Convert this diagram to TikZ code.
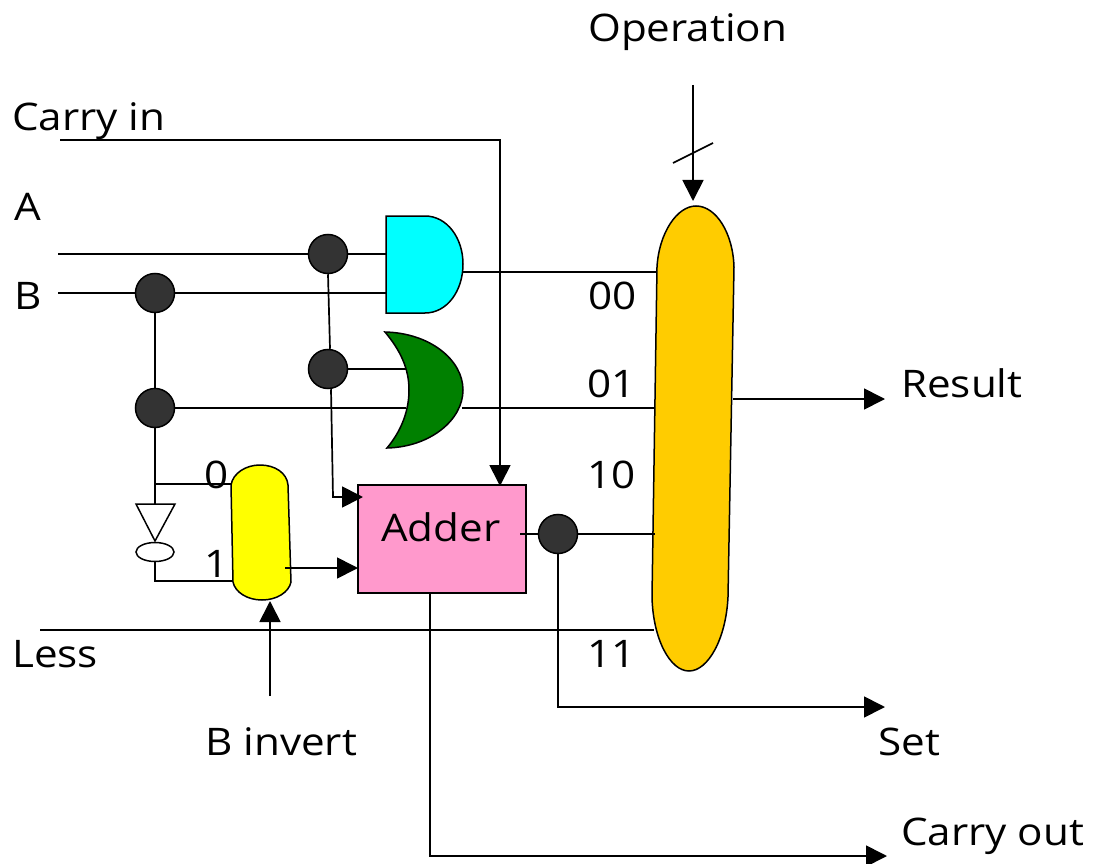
\documentclass[tikz,border=0pt]{standalone}
\usepackage{fontspec}
\setmainfont[FakeStretch=1.11]{Open Sans}
\usepackage{tikz}
\usetikzlibrary{arrows.meta,shapes.geometric}
\definecolor{opmux}{HTML}{FFCC00}
\definecolor{addpink}{HTML}{FF99CC}
\definecolor{orgreen}{HTML}{008000}
\definecolor{dotgrey}{HTML}{333333}
\definecolor{andcyan}{HTML}{00FFFF}
\definecolor{invyellow}{HTML}{FFFF00}
\tikzstyle{wire}=[draw=black,line width=1.7pt]
\tikzstyle{act}=[wire,-{Triangle[length=21pt,width=21pt]}]
\tikzstyle{gate}=[draw=black,line width=1.5pt]

\begin{document}
\begin{tikzpicture}[x=1pt,y=-1pt]
    \tikzstyle{junction}=[circle,draw=black,line width=1.5pt,fill=dotgrey,minimum size=39pt,inner sep=0pt]
    \tikzstyle{lab}=[anchor=base west,inner sep=0pt,font=\fontsize{38}{38}\selectfont]
    \useasboundingbox (0,0) rectangle (1093,864);

    % Draw the junction dots
    \foreach \name / \x / \y in {J1/328/254,J2/155/293,J3/155/408,J4/328/369,J5/558/534}
        \node[junction] (\name) at (\x,\y) {};

    % Draw the gates
    \path[gate,fill=andcyan] (386,216) -- (425,216) .. controls (447,216) and (463,238) .. (463,264)
        .. controls (463,291) and (447,313) .. (425,313) -- (386,313) -- cycle;
    \path[gate,fill=orgreen] (385,332) .. controls (430,333) and (463,360) .. (463,390)
        .. controls (463,420) and (430,447) .. (387,448) .. controls (402,430) and (409,410) .. (409,390)
        .. controls (409,368) and (400,350) .. (385,332) -- cycle;

    % Draw the multiplexers
    \path[gate,fill=invyellow] (231,485) .. controls (233,473) and (246,465) .. (260,465)
        .. controls (275,465) and (287,473) .. (288,485) -- (291,582)
        .. controls (289,592) and (277,600) .. (262,600) .. controls (247,600) and (235,592) .. (233,582) -- cycle;
    \path[gate,fill=opmux] (657,267) .. controls (659,233) and (677,206) .. (696,206)
        .. controls (716,206) and (733,233) .. (734,267) -- (728,597)
        .. controls (726,639) and (708,671) .. (689,671) .. controls (670,671) and (653,639) .. (652,597) -- cycle;

    % Draw the adder and the inverter
    \node[draw=black,line width=1.7pt,fill=addpink,minimum width=168pt,minimum height=108pt,inner sep=0pt] (adder) at (442,539) {};
    \node[gate,fill=white,shape=ellipse,minimum width=38pt,minimum height=19pt,inner sep=0pt] (invdot) at (155,552) {};
    \path[gate,fill=white] (136,504) -- (175,504) -- (155,541) -- cycle;

    % ports and free ends
    \coordinate (Ain) at (58,254);
    \coordinate (Bin) at (58,293);
    \coordinate (CarryIn) at (60,140);
    \coordinate (CarryTurn) at (500,140);
    \coordinate (CarryEnd) at (500,486);
    \coordinate (AndA) at (386,254);
    \coordinate (AndB) at (386,293);
    \coordinate (AndOut) at (463,272);
    \coordinate (OrA) at (406,369);
    \coordinate (OrB) at (406,408);
    \coordinate (OrOut) at (462,408);
    \coordinate (Mux00) at (656,272);
    \coordinate (Mux01) at (655,408);
    \coordinate (Mux10) at (655,534);
    \coordinate (Mux11) at (654,630);
    \coordinate (InvTop) at (155,504);
    \coordinate (Tap0) at (155,484);
    \coordinate (Sel0) at (232,484);
    \coordinate (InvTurn) at (155,581);
    \coordinate (Sel1) at (233,581);
    \coordinate (YelOut) at (285,568);
    \coordinate (AddIn) at (358,568);
    \coordinate (AddTurn) at (333,497);
    \coordinate (AddA) at (363,497);
    \coordinate (AddOut) at (520,534);
    \coordinate (LessIn) at (40,630);
    \coordinate (InvIn) at (270,696);
    \coordinate (InvEnd) at (270,601);
    \coordinate (OutTap) at (430,593);
    \coordinate (OutTurn) at (430,856);
    \coordinate (OutEnd) at (887,856);
    \coordinate (SetTurn) at (558,707);
    \coordinate (SetEnd) at (885,707);
    \coordinate (ResStart) at (733,399);
    \coordinate (ResEnd) at (885,399);
    \coordinate (OpTop) at (693,85);
    \coordinate (OpEnd) at (693,201);
    \coordinate (SlashA) at (673,163);
    \coordinate (SlashB) at (713,143);

    % connect the inputs
    \draw[wire] (Ain) -- (J1);
    \draw[wire] (J1) -- (AndA);
    \draw[wire] (Bin) -- (J2);
    \draw[wire] (J2) -- (AndB);
    \draw[wire] (J2) -- (J3);
    \draw[wire] (J3) -- (OrB);
    \draw[wire] (J4) -- (OrA);
    \draw[wire] (J1.south) -- ([xshift=2pt]J4.north);
    \draw[act] (CarryIn) -- (CarryTurn) -- (CarryEnd);
    \draw[act] ([xshift=3pt]J4.south) -- (AddTurn) -- (AddA);

    % connect the B inverter
    \draw[wire] (J3) -- (InvTop);
    \draw[wire] (Tap0) -- (Sel0);
    \draw[wire] (invdot) -- (InvTurn) -- (Sel1);
    \draw[act] (YelOut) -- (AddIn);
    \draw[act] (InvIn) -- (InvEnd);

    % connect to the operation mux
    \draw[wire] (AndOut) -- (Mux00);
    \draw[wire] (OrOut) -- (Mux01);
    \draw[wire] (AddOut) -- (J5);
    \draw[wire] (J5) -- (Mux10);
    \draw[wire] (LessIn) -- (Mux11);

    % the outputs
    \draw[act] (ResStart) -- (ResEnd);
    \draw[act] (J5) -- (SetTurn) -- (SetEnd);
    \draw[act] (OutTap) -- (OutTurn) -- (OutEnd);
    \draw[act] (OpTop) -- (OpEnd);
    \draw[wire] (SlashA) -- (SlashB);

    % Annotate
    \node[lab] (opLabel) at (588,42) {Operation};
    \node[lab] (carryLabel) at (12,131) {Carry in};
    \node[lab] (aLabel) at (14,220) {A};
    \node[lab] (bLabel) at (14,309) {B};
    \node[lab] (l00) at (588,309) {00};
    \node[lab] (l01) at (587,397) {01};
    \node[lab] (l10) at (587,488) {10};
    \node[lab] (l11) at (587,667) {11};
    \node[lab] (resLabel) at (901,397) {Result};
    \node[lab] (setLabel) at (878,755) {Set};
    \node[lab] (outLabel) at (901,845) {Carry out};
    \node[lab] (invLabel) at (205,755) {B invert};
    \node[lab] (lessLabel) at (12,667) {Less};
    \node[lab] (sel0) at (204,488) {0};
    \node[lab] (sel1) at (204,577) {1};
    \node[lab] (adderLabel) at (381,541) {Adder};
\end{tikzpicture}
\end{document}
